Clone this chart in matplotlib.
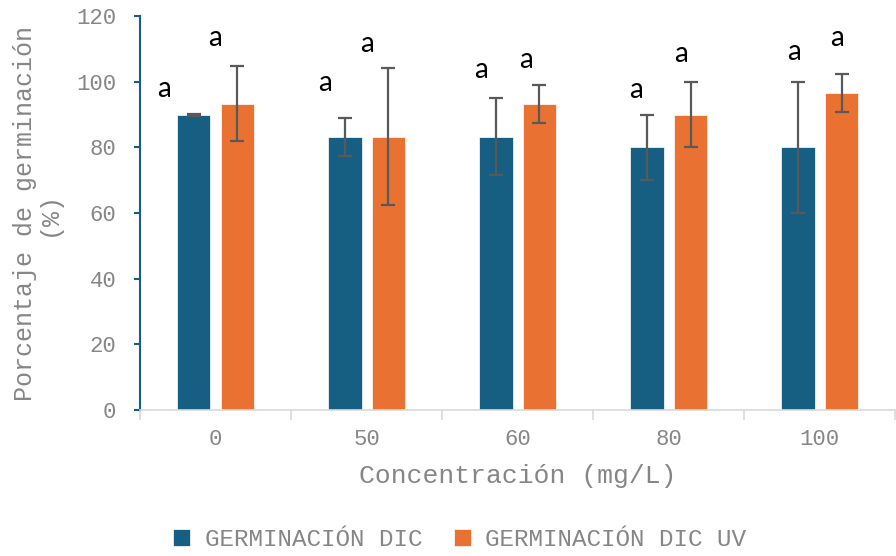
import matplotlib.pyplot as plt
import numpy as np

# Datos
conc = ['0', '50', '60', '80', '100']
dic = [90.0, 83.3, 83.3, 80.0, 80.0]
dic_err = [0.3, 5.8, 11.6, 10.0, 20.0]
dic_uv = [93.3, 83.3, 93.3, 90.0, 96.7]
dic_uv_err = [11.5, 20.8, 5.8, 10.0, 5.8]
letras_dic = ['a', 'a', 'a', 'a', 'a']
letras_uv = ['a', 'a', 'a', 'a', 'a']
altura_dic = [97.8, 99.5, 103.5, 97.5, 109.0]
altura_uv = [113.3, 111.5, 106.6, 108.4, 113.3]

azul = '#175f82'
naranja = '#e97132'
gris = '#868686'
mono = 'Liberation Mono'

fig = plt.figure(figsize=(8.96, 5.56), dpi=100)
ax = fig.add_axes([0.1563, 0.2626, 0.843, 0.7085])

x = np.arange(len(conc))
w = 0.22
off = 0.144
ax.bar(x - off, dic, w, color=azul, edgecolor='white', lw=0.5, label='GERMINACIÓN DIC')
ax.bar(x + off, dic_uv, w, color=naranja, edgecolor='white', lw=0.5, label='GERMINACIÓN DIC UV')
ax.errorbar(x - off, dic, yerr=dic_err, fmt='none', ecolor='#595959', elinewidth=1.6, capsize=5, capthick=1.6)
ax.errorbar(x + off, dic_uv, yerr=dic_uv_err, fmt='none', ecolor='#595959', elinewidth=1.6, capsize=5, capthick=1.6)

# letras de significancia
shift_dic = [-0.2, -0.13, -0.1, -0.07, -0.03]
shift_uv = [-0.15, -0.14, -0.09, -0.06, -0.03]
for i in range(len(conc)):
    ax.text(x[i] - off + shift_dic[i], altura_dic[i], letras_dic[i], ha='center', va='center',
            fontsize=20, family='Lato', color='black')
    ax.text(x[i] + off + shift_uv[i], altura_uv[i], letras_uv[i], ha='center', va='center',
            fontsize=20, family='Lato', color='black')

ax.set_xlim(-0.5, len(conc) - 0.5)
ax.set_ylim(0, 120)
ax.set_yticks(range(0, 121, 20))
ax.set_xticks(x)
ax.set_xticklabels(conc)
ax.set_xticks(np.arange(-0.5, len(conc) - 0.4, 1), minor=True)
ax.tick_params(axis='x', which='major', length=0, pad=14, labelsize=16, labelcolor=gris)
ax.tick_params(axis='x', which='minor', length=7, color='#d9d9d9', width=1.2)
ax.tick_params(axis='y', length=4, color=azul, width=1.5, labelsize=16, labelcolor=gris, pad=13)
for lab in ax.get_xticklabels() + ax.get_yticklabels():
    lab.set_family(mono)

for s in ['top', 'right']:
    ax.spines[s].set_visible(False)
ax.spines['left'].set_color(azul)
ax.spines['left'].set_linewidth(1.5)
ax.spines['bottom'].set_color('#d9d9d9')
ax.spines['bottom'].set_linewidth(1.2)

ax.set_xlabel('Concentración (mg/L)', family=mono, fontsize=19, color=gris, labelpad=10)
ax.set_ylabel('Porcentaje de germinación\n(%)', family=mono, fontsize=18, color=gris,
              linespacing=1.0, labelpad=11)

fig.legend(loc='lower center', bbox_to_anchor=(0.513, -0.018), ncol=2, frameon=False,
           prop={'family': mono, 'size': 17.5}, labelcolor=gris, borderaxespad=0.2,
           handlelength=0.7, handleheight=0.7, handletextpad=0.6, columnspacing=1.3)

fig.savefig('out.png', dpi=100)
